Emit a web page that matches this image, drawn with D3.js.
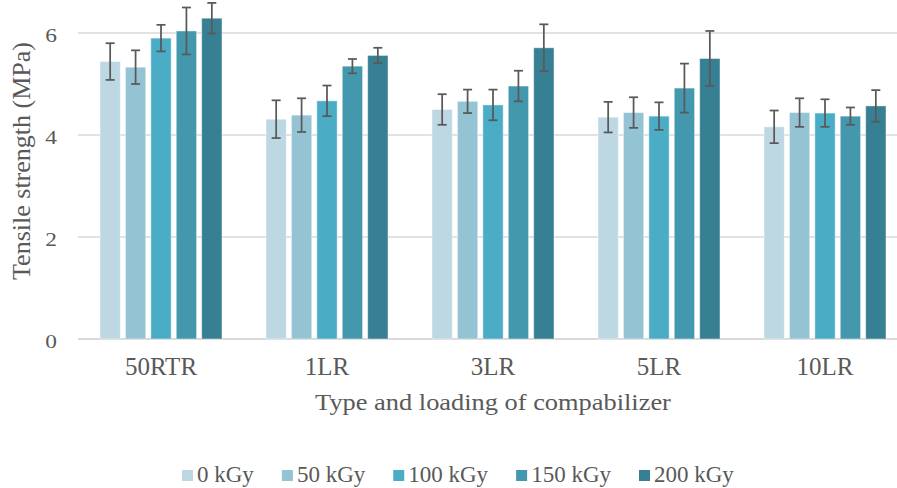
<!DOCTYPE html>
<html>
<head>
<meta charset="utf-8">
<script src="https://cdn.jsdelivr.net/npm/d3@7"></script>
<style>
  body { margin: 0; background: #fff; }
  svg text { font-family: 'Liberation Serif', 'Times New Roman', Times, serif; fill: #595959; }
</style>
</head>
<body>
<div class="chart"></div>
<script>
// compatibilizer type / loading on x axis
const categories = ['50RTR', '1LR', '3LR', '5LR', '10LR'];
const series = ['0 kGy', '50 kGy', '100 kGy', '150 kGy', '200 kGy'];
// tensile strength (MPa), one array per dose, in category order
const dose0 = [5.44, 4.31, 4.50, 4.35, 4.16];
const dose50 = [5.33, 4.39, 4.66, 4.44, 4.44];
const dose100 = [5.90, 4.67, 4.59, 4.37, 4.43];
const dose150 = [6.04, 5.35, 4.96, 4.92, 4.37];
const dose200 = [6.29, 5.56, 5.71, 5.50, 4.57];
// error bar half lengths
const err0 = [0.36, 0.37, 0.30, 0.30, 0.32];
const err50 = [0.33, 0.33, 0.23, 0.30, 0.28];
const err100 = [0.26, 0.30, 0.30, 0.27, 0.27];
const err150 = [0.46, 0.14, 0.30, 0.48, 0.17];
const err200 = [0.30, 0.15, 0.46, 0.54, 0.31];
const yTicks = [0, 2, 4, 6];

const values = [dose0, dose50, dose100, dose150, dose200];
const errors = [err0, err50, err100, err150, err200];
const colors = ['#bed8e3', '#94c3d4', '#4bacc6', '#4398ae', '#377f93'];

const width = 897;
const height = 488;
const font = 'Liberation Serif, Times New Roman, Times, serif';

const svg = d3.select('.chart')
  .append('svg')
  .attr('width', width)
  .attr('height', height)
  .attr('font-family', font);

// scales
const x0 = d3.scaleBand().domain(categories)
  .range([78, 908])
  .paddingInner(0.265)
  .paddingOuter(0.1325);
const x1 = d3.scaleBand().domain(series)
  .range([0, x0.bandwidth()])
  .paddingInner(0.2);
const y = d3.scaleLinear().domain([0, 6]).range([339, 33]);

// gridlines
svg.append('g')
  .selectAll('line')
  .data(yTicks)
  .enter()
  .append('line')
  .attr('x1', 78)
  .attr('x2', width)
  .attr('y1', d => y(d))
  .attr('y2', d => y(d))
  .attr('stroke', '#d9d9d9')
  .attr('stroke-width', d => d === 0 ? 2 : 1.5);

// y tick labels (a bit wide, like the original)
svg.append('g')
  .selectAll('text')
  .data(yTicks)
  .enter()
  .append('text')
  .attr('transform', d => `translate(57,${y(d) + 8.5}) scale(1.3,1)`)
  .attr('text-anchor', 'end')
  .style('font-size', '18px')
  .text(d => d);

// flatten into rows for bars and error bars
const rows = [];
categories.forEach((c, i) => {
  series.forEach((s, j) => {
    rows.push({ cat: c, key: s, value: values[j][i], err: errors[j][i], color: colors[j] });
  });
});

const groups = svg.append('g');
groups.selectAll('rect')
  .data(rows)
  .enter()
  .append('rect')
  .attr('x', d => x0(d.cat) + x1(d.key))
  .attr('y', d => y(d.value))
  .attr('width', x1.bandwidth())
  .attr('height', d => y(0) - y(d.value))
  .attr('fill', d => d.color)
  .attr('stroke', '#ffffff')
  .attr('stroke-opacity', 0.45)
  .attr('stroke-width', 1);

// error bars
const eb = svg.append('g')
  .attr('stroke', '#595959')
  .attr('stroke-width', 1.75);
const cx = d => x0(d.cat) + x1(d.key) + x1.bandwidth() / 2;
eb.selectAll('.stem')
  .data(rows)
  .enter()
  .append('line')
  .attr('x1', cx)
  .attr('x2', cx)
  .attr('y1', d => y(d.value + d.err))
  .attr('y2', d => y(d.value - d.err));
eb.selectAll('.capTop')
  .data(rows)
  .enter()
  .append('line')
  .attr('x1', d => cx(d) - 4.5)
  .attr('x2', d => cx(d) + 4.5)
  .attr('y1', d => y(d.value + d.err))
  .attr('y2', d => y(d.value + d.err));
eb.selectAll('.capBottom')
  .data(rows)
  .enter()
  .append('line')
  .attr('x1', d => cx(d) - 4.5)
  .attr('x2', d => cx(d) + 4.5)
  .attr('y1', d => y(d.value - d.err))
  .attr('y2', d => y(d.value - d.err));

// x tick labels
svg.append('g')
  .selectAll('text')
  .data(categories)
  .enter()
  .append('text')
  .attr('x', d => x0(d) + x0.bandwidth() / 2)
  .attr('y', 375)
  .attr('text-anchor', 'middle')
  .style('font-size', '25px')
  .text(d => d);

// axis titles
svg.append('text')
  .attr('transform', 'translate(493,410) scale(1.1,1)')
  .attr('text-anchor', 'middle')
  .style('font-size', '24px')
  .text('Type and loading of compabilizer');

svg.append('text')
  .attr('transform', 'translate(30,161) rotate(-90)')
  .attr('text-anchor', 'middle')
  .style('font-size', '26px')
  .text('Tensile strength (MPa)');

// legend
const legend = svg.append('g');
let lx = 182;
series.forEach((s, j) => {
  legend.append('rect')
    .attr('x', lx)
    .attr('y', 470)
    .attr('width', 11)
    .attr('height', 11)
    .attr('fill', colors[j]);
  const t = legend.append('text')
    .attr('x', lx + 15)
    .attr('y', 481.5)
    .style('font-size', '23px')
    .text(s);
  lx += 15 + t.node().getComputedTextLength() + 28;
});
</script>
</body>
</html>
